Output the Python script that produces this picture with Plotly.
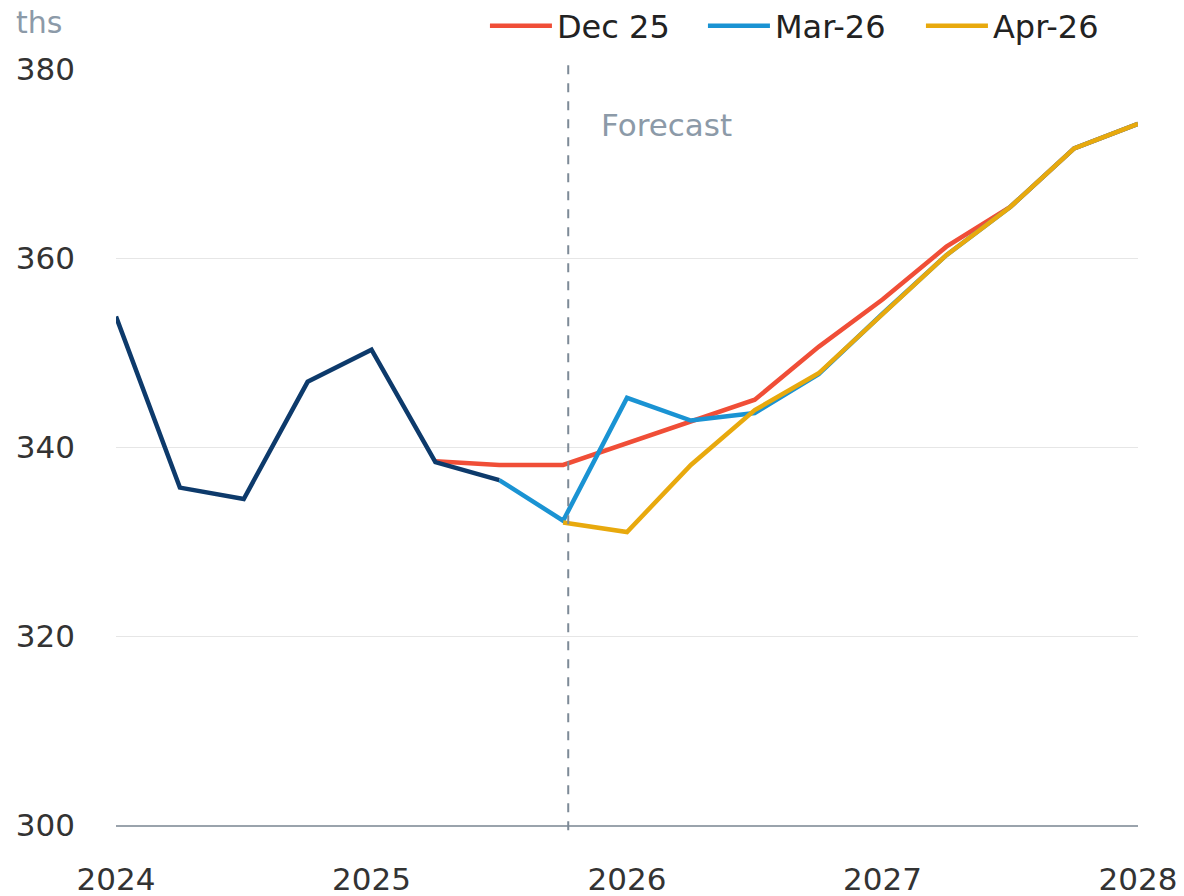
import plotly.graph_objects as go

# Quarterly positions (decimal years)
quarters = [2024.0, 2024.25, 2024.5, 2024.75, 2025.0, 2025.25, 2025.5, 2025.75,
            2026.0, 2026.25, 2026.5, 2026.75, 2027.0, 2027.25, 2027.5, 2027.75, 2028.0]

actual_x = quarters[0:7]
actual = [353.8, 335.7, 334.5, 346.9, 350.3, 338.4, 336.5]

dec25_x = quarters[5:]
dec25 = [338.5, 338.1, 338.1, 340.4, 342.6, 345.0, 350.6, 355.6, 361.2, 365.4, 371.6, 374.2]

mar26_x = quarters[6:]
mar26 = [336.5, 332.2, 345.2, 342.8, 343.6, 347.7, 354.1, 360.3, 365.4, 371.6, 374.2]

apr26_x = quarters[7:]
apr26 = [332.0, 331.0, 338.1, 343.9, 347.8, 354.1, 360.3, 365.4, 371.6, 374.2]

forecast_start = 2025.77
year_ticks = [2024, 2025, 2026, 2027, 2028]
y_ticks = [300, 320, 340, 360, 380]

FONT = "DejaVu Sans"
LW = 4.5
fig = go.Figure()
fig.add_trace(go.Scatter(x=dec25_x, y=dec25, mode="lines", name="Dec 25",
                         line=dict(color="#f04e37", width=LW)))
fig.add_trace(go.Scatter(x=mar26_x, y=mar26, mode="lines", name="Mar-26",
                         line=dict(color="#1a93d3", width=LW)))
fig.add_trace(go.Scatter(x=apr26_x, y=apr26, mode="lines", name="Apr-26",
                         line=dict(color="#e8a90d", width=LW)))
fig.add_trace(go.Scatter(x=actual_x, y=actual, mode="lines", name="Actual",
                         showlegend=False, line=dict(color="#0d3a6b", width=LW)))

fig.add_shape(type="line", xref="x", yref="paper", x0=forecast_start, x1=forecast_start,
              y0=-0.007, y1=1.009, line=dict(color="#7d8a97", width=2, dash="dash"))

fig.add_annotation(text="Forecast", xref="x", yref="y", x=2025.89, y=374.1,
                   xanchor="left", yanchor="middle", showarrow=False,
                   font=dict(family=FONT, size=31, color="#8c9aa8"))
fig.add_annotation(text="ths", xref="paper", yref="paper", x=-0.1, y=1.062,
                   xanchor="left", yanchor="middle", showarrow=False,
                   font=dict(family=FONT, size=30, color="#8c9aa8"))

fig.update_layout(
    width=1184, height=896,
    margin=dict(l=116, r=46, t=69, b=71, autoexpand=False),
    paper_bgcolor="white", plot_bgcolor="white",
    font=dict(family=FONT, size=31, color="#333333"),
    showlegend=True,
    legend=dict(orientation="h", x=0.361, y=1.057, xanchor="left", yanchor="middle",
                font=dict(family=FONT, size=32, color="#222222"),
                itemwidth=62, entrywidth=141, entrywidthmode="pixels",
                bgcolor="rgba(255,255,255,0)", traceorder="normal"),
    xaxis=dict(range=[2024, 2028], tickvals=year_ticks, ticktext=[str(v) for v in year_ticks],
               showgrid=False, zeroline=False, showline=True, linecolor="#9aa3ac", linewidth=2,
               ticks="", ticklabelstandoff=26, tickfont=dict(family=FONT, size=31, color="#333333")),
    yaxis=dict(range=[300, 380], tickvals=y_ticks, showgrid=True, gridcolor="#e6e6e6", gridwidth=1,
               zeroline=False, showline=False, ticks="", ticklabelstandoff=40,
               tickfont=dict(family=FONT, size=31, color="#333333")),
)

fig.write_html("out.html", config={"displayModeBar": False},
               post_script="document.body.style.margin='0';document.body.style.overflow='hidden';")
